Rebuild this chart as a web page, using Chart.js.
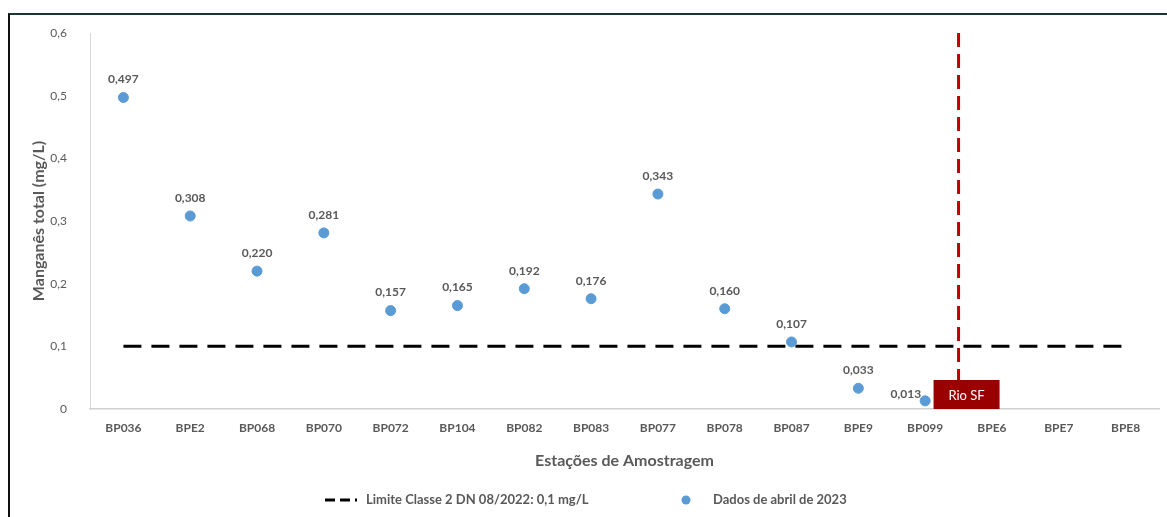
<!DOCTYPE html>
<html>
<head>
<meta charset="utf-8">
<script src="https://cdn.jsdelivr.net/npm/chart.js@4.4.1/dist/chart.umd.min.js"></script>
<style>
  html, body { margin: 0; padding: 0; background: #fff; }
  #wrap { position: relative; width: 1167px; height: 517px; overflow: hidden; }
  #frame { position: absolute; left: 8px; top: 13px; right: -10px; bottom: -10px;
           border-left: 2px solid #111; border-top: 2px solid #1b3434; }
  canvas { position: absolute; left: 0; top: 0; }
</style>
</head>
<body>
<div id="wrap">
  <div id="frame"></div>
  <canvas id="c" width="1167" height="517"></canvas>
</div>
<script>
// Sampling stations along the river
const stations = ['BP036','BPE2','BP068','BP070','BP072','BP104','BP082','BP083','BP077','BP078','BP087','BPE9','BP099','BPE6','BPE7','BPE8'];
// Total manganese, April 2023 (mg/L); no result for the last three stations
const manganese = [0.497,0.308,0.220,0.281,0.157,0.165,0.192,0.176,0.343,0.160,0.107,0.033,0.013,null,null,null];
// Class 2 limit, DN 08/2022
const limitValue = 0.1;
const limitLine = stations.map(() => limitValue);
const yTicks = [0, 0.1, 0.2, 0.3, 0.4, 0.5, 0.6];
// Boundary marker drawn between these two stations
const boundaryAfter = 'BP099';
const boundaryBefore = 'BPE6';
const boundaryLabel = 'Rio SF';

const legendLimit = 'Limite Classe 2 DN 08/2022: 0,1 mg/L';
const legendData = 'Dados de abril de 2023';

const FONT = 'Lato, "Open Sans", sans-serif';
const GREY = '#595959';
const BLUE = '#5B9BD5';
const fmt = v => v.toFixed(3).replace('.', ',');

const overlay = {
  id: 'overlay',
  afterDatasetsDraw(chart) {
    const ctx = chart.ctx;
    const xs = chart.scales.x, ys = chart.scales.y;
    const area = chart.chartArea;

    // value labels above each point
    ctx.save();
    ctx.font = 'bold 12px ' + FONT;
    ctx.fillStyle = GREY;
    ctx.textBaseline = 'bottom';
    manganese.forEach((v, i) => {
      if (v === null) return;
      const x = xs.getPixelForValue(i), y = ys.getPixelForValue(v);
      if (stations[i] === boundaryAfter) {
        ctx.textAlign = 'right';
        ctx.fillText(fmt(v), x - 4, y - 1);
      } else {
        ctx.textAlign = 'center';
        ctx.fillText(fmt(v), x, y - 12);
      }
    });
    ctx.restore();

    // vertical boundary line
    const bx = (xs.getPixelForValue(stations.indexOf(boundaryAfter)) +
                xs.getPixelForValue(stations.indexOf(boundaryBefore))) / 2;
    ctx.save();
    ctx.strokeStyle = '#C00000';
    ctx.lineWidth = 3;
    ctx.setLineDash([14, 7]);
    ctx.beginPath();
    ctx.moveTo(bx, area.top);
    ctx.lineTo(bx, area.bottom);
    ctx.stroke();
    ctx.restore();

    // boundary label box
    ctx.save();
    const bw = 66, bh = 29;
    ctx.fillStyle = '#990000';
    ctx.fillRect(bx - 25, area.bottom - bh, bw, bh);
    ctx.fillStyle = '#fff';
    ctx.font = '13px ' + FONT;
    ctx.textAlign = 'center';
    ctx.textBaseline = 'middle';
    ctx.fillText(boundaryLabel, bx - 25 + bw / 2, area.bottom - bh / 2 + 1);
    ctx.restore();

    // legend
    ctx.save();
    const ly = 500;
    ctx.strokeStyle = '#000';
    ctx.lineWidth = 3;
    ctx.setLineDash([10, 5]);
    ctx.beginPath();
    ctx.moveTo(325, ly);
    ctx.lineTo(357, ly);
    ctx.stroke();
    ctx.setLineDash([]);
    ctx.font = 'bold 13px ' + FONT;
    ctx.fillStyle = GREY;
    ctx.textAlign = 'left';
    ctx.textBaseline = 'middle';
    ctx.fillText(legendLimit, 366, ly);
    ctx.fillStyle = BLUE;
    ctx.beginPath();
    ctx.arc(686, ly, 4.5, 0, Math.PI * 2);
    ctx.fill();
    ctx.fillStyle = GREY;
    ctx.fillText(legendData, 713, ly);
    ctx.restore();
  }
};

new Chart(document.getElementById('c'), {
  type: 'line',
  data: {
    labels: stations,
    datasets: [
      {
        label: legendLimit,
        data: limitLine,
        borderColor: '#000',
        borderWidth: 3,
        borderDash: [18, 10],
        pointRadius: 0,
        fill: false,
        order: 2
      },
      {
        label: legendData,
        data: manganese,
        showLine: false,
        pointRadius: 5,
        pointHoverRadius: 5,
        pointBackgroundColor: BLUE,
        pointBorderColor: BLUE,
        order: 1
      }
    ]
  },
  options: {
    responsive: false,
    animation: false,
    events: [],
    layout: { padding: { top: 33, right: 8, bottom: 43, left: 0 } },
    plugins: { legend: { display: false }, tooltip: { enabled: false } },
    scales: {
      x: {
        offset: true,
        grid: { display: false, drawTicks: false },
        border: { display: true, color: '#D0D0D0', width: 1.5 },
        ticks: { color: GREY, font: { family: FONT, size: 12, weight: 'bold' }, padding: 12, maxRotation: 0, autoSkip: false },
        title: { display: true, text: 'Estações de Amostragem', color: GREY,
                 font: { family: FONT, size: 16, weight: 'bold' }, padding: { top: 4 } },
        afterFit(s) { s.height = 65; }
      },
      y: {
        min: 0, max: 0.6,
        afterBuildTicks(s) { s.ticks = yTicks.map(v => ({ value: v })); },
        grid: { display: false, drawTicks: false },
        border: { display: true, color: '#D9D9D9', width: 1 },
        ticks: { color: GREY, font: { family: FONT, size: 12 }, padding: 23,
                 callback: v => v === 0 ? '0' : String(v).replace('.', ',') },
        title: { display: true, text: 'Manganês total (mg/L)', color: GREY,
                 font: { family: FONT, size: 16, weight: 'bold' }, padding: { top: 29, bottom: 0 } },
        afterFit(s) { s.width = 90; }
      }
    }
  },
  plugins: [overlay]
});
</script>
</body>
</html>
